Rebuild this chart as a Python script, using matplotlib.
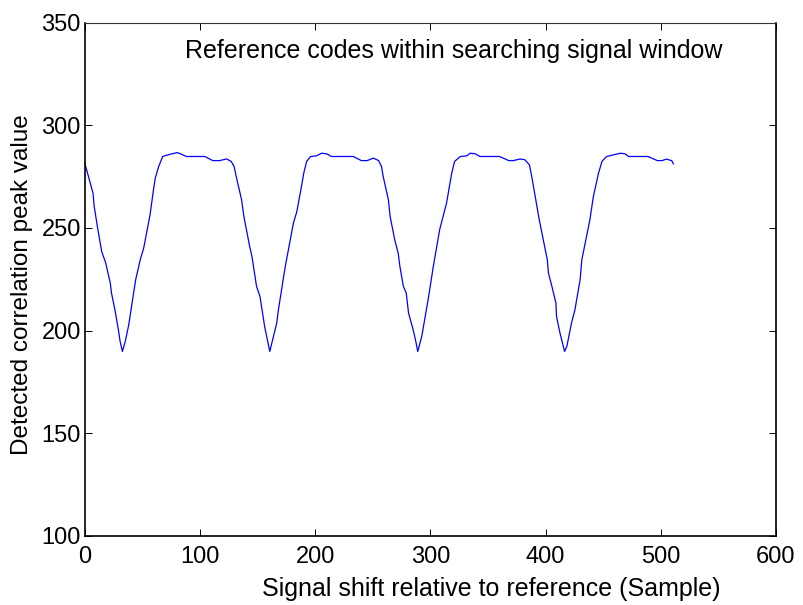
import matplotlib.pyplot as plt
import numpy as np

plt.rcParams["font.family"] = ["Liberation Sans", "DejaVu Sans"]

# traced correlation peak curve (sample index, peak value)
shift = [
    0, 3, 7, 8, 11, 14.5, 18, 22, 23, 26, 29, 30.5, 32.5, 35, 38, 40.5, 44, 48,
    51, 54, 56.5, 59.5, 61, 64, 67.5, 72, 80, 83, 88, 104, 111, 117, 123, 127,
    129.5, 132, 136, 138, 143, 145, 149, 152, 156, 159, 160.5,
    166.5, 168, 173, 174.5, 181, 184, 188, 190, 192.5, 196, 201, 205.5, 210, 214,
    233, 240, 245, 250.5, 255, 257.5, 259, 263.5, 265, 269, 272, 273.5, 276.5,
    279, 281, 285, 287, 289, 292.5, 296, 298, 302.5, 305, 308, 311, 314, 317,
    318.5, 321, 326, 331.5, 334.5, 339, 343, 360, 368, 372, 378,
    382, 386, 388, 392, 394.5, 398, 401.5, 402.5, 405.5, 409, 409.5, 412.5,
    416.5, 418.5, 422.5, 425.5, 430, 431.5, 435, 438.5, 440, 441.5, 446, 449,
    453, 459, 465, 469, 472, 489, 497, 501, 505, 509.5, 511,
]
peak = [
    281.2, 275.0, 266.9, 260.4, 249.9, 238.5, 232.9, 223.1, 218.3, 210.1, 200.4,
    194.7, 189.8, 194.7, 202.8, 211.8, 224.7, 234.5, 240.2, 249.1, 256.4, 268.6,
    274.2, 279.9, 284.8, 285.6, 286.7, 286.1, 284.8, 284.8, 282.8, 282.8, 283.6,
    282.4, 279.9, 273.4, 263.7, 255.6, 241.0, 236.1, 221.5, 216.6, 202.0, 193.9,
    189.8,
    203.6, 210.1, 228.0, 232.9, 252.3, 258.0, 270.2, 276.7, 282.4, 284.8, 285.1,
    286.4, 286.1, 284.8, 284.8, 282.8, 282.8, 284.0, 282.8, 279.9, 275.0, 263.7,
    255.6, 244.2, 237.7, 231.2, 221.5, 218.3, 208.5, 200.4, 195.5, 189.8, 197.2,
    208.5, 215.0, 231.2, 239.3, 249.1, 255.6, 262.1, 271.8, 276.7, 282.4, 284.8,
    285.1, 286.4, 286.1, 284.8, 284.8, 282.8, 282.8, 283.6,
    283.2, 280.7, 275.0, 262.1, 254.0, 244.2, 234.5, 228.0, 221.5, 213.4, 206.9,
    198.8, 189.8, 192.3, 203.6, 210.1, 224.7, 234.5, 244.2, 254.0, 259.6, 265.3,
    276.7, 282.4, 284.8, 285.6, 286.4, 286.1, 284.8, 284.8, 282.8, 282.8, 283.5,
    282.8, 281.2,
]

xticks = [0, 100, 200, 300, 400, 500, 600]
yticks = [100, 150, 200, 250, 300, 350]

fig = plt.figure(figsize=(8.04, 6.05), dpi=100)
ax = fig.add_axes([0.1057, 0.1145, 0.8593, 0.848])

ax.plot(shift, peak, color="#0000ff", linewidth=0.9)

ax.set_xlim(0, 600)
ax.set_ylim(100, 350)
ax.set_xticks(xticks)
ax.set_yticks(yticks)
ax.tick_params(direction="in", length=5, width=0.7, labelsize=17,
               top=True, right=True)
ax.tick_params(axis="x", pad=7.5)
ax.tick_params(axis="y", pad=3)
for side in ["left", "bottom", "right"]:
    ax.spines[side].set_linewidth(1.2)
ax.spines["top"].set_linewidth(0.8)
ax.spines["top"].set_color("#333333")

ax.text(320, 332.7, "Reference codes within searching signal window",
        ha="center", va="baseline", fontsize=18)

fig.text(491 / 804, 1 - 596 / 605, "Signal shift relative to reference (Sample)",
         ha="center", va="baseline", fontsize=18)
fig.text(22 / 804, 1 - 284.5 / 605, "Detected correlation peak value",
         ha="center", va="center", rotation=90, fontsize=17.5)

fig.savefig("out.png", dpi=100)
